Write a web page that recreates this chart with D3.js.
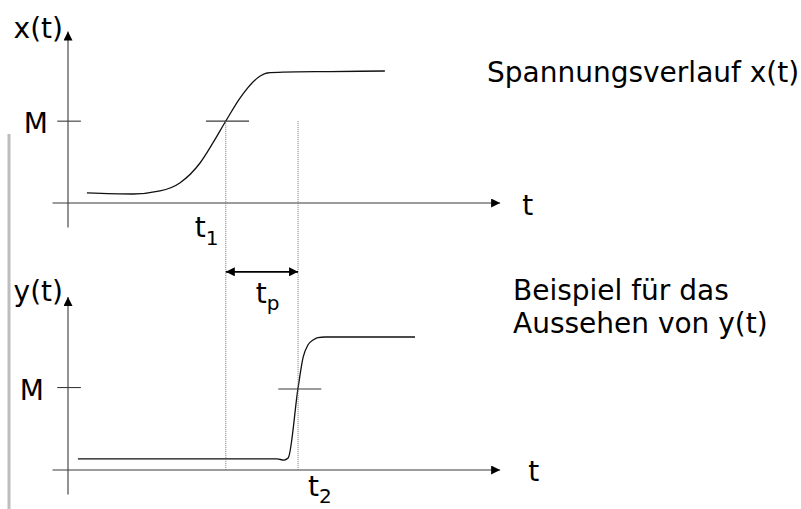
<!DOCTYPE html>
<html>
<head>
<meta charset="utf-8">
<script src="https://cdn.jsdelivr.net/npm/d3@7"></script>
<style>
  html, body { margin: 0; padding: 0; background: #fff; }
  svg { display: block; }
  text { font-family: "DejaVu Sans", sans-serif; fill: #000; }
</style>
</head>
<body>
<script>
// ---------- data ----------
const signalNames = ["x(t)", "y(t)"];
const axisName = "t";
const levelName = "M";
const descriptions = [["Spannungsverlauf x(t)"], ["Beispiel für das", "Aussehen von y(t)"]];

// input signal x(t)
const xSigT = [0.44, 1.51, 2.14, 2.60, 3.07, 3.37, 3.67, 4.00, 4.47, 4.63, 5.00, 6.09, 7.37];
const xSigV = [0.076, 0.068, 0.091, 0.152, 0.303, 0.455, 0.621, 0.795, 0.962, 0.985, 0.992, 0.996, 1.0];

// output signal y(t)
const ySigT = [0.23, 4.86, 5.02, 5.12, 5.35, 5.47, 5.58, 5.70, 5.81, 5.98, 8.07];
const ySigV = [0.083, 0.083, 0.075, 0.09, 0.617, 0.85, 0.94, 0.977, 0.996, 1.0, 1.0];

const levelM = 0.62;
const t1 = 3.67, t2 = 5.35;
const crossTimes = [t1, t2];
const crossSubs = ["1", "2"];
const tpLevel = 1.49;        // height of the t_p arrow (in y(t) units)
const tpSub = "p";

// ---------- layout ----------
const W = 801, H = 509;
const FS = 28, FSsub = 20;
const svg = d3.select("body").append("svg").attr("width", W).attr("height", H);

const tScale = d3.scaleLinear().domain([0, 10]).range([68, 498]);
const yScales = [
  d3.scaleLinear().domain([0, 1]).range([203, 71]),
  d3.scaleLinear().domain([0, 1]).range([470, 337])
];
const axisTMin = -0.36, axisTMax = 10.05;
const axisVMin = -0.185, axisVMax = 1.30;

const defs = svg.append("defs");
function marker(id, color, orient) {
  defs.append("marker").attr("id", id)
    .attr("viewBox", "0 0 10 10").attr("refX", 10).attr("refY", 5)
    .attr("markerWidth", 10).attr("markerHeight", 9).attr("markerUnits", "userSpaceOnUse")
    .attr("orient", orient)
    .append("path").attr("d", "M0,0 L10,5 L0,10 Z").attr("fill", color);
}
marker("arr", "#000", "auto");
marker("arrS", "#000", "auto-start-reverse");

// gray bar at left
svg.append("rect").attr("x", 7.5).attr("y", 134).attr("width", 3).attr("height", H - 134)
  .attr("fill", "#bdbdbd");

const axisColor = "#3a3a3a";
const line = d3.line().curve(d3.curveMonotoneX);

const sigs = [
  {T: xSigT, V: xSigV, cross: t1},
  {T: ySigT, V: ySigV, cross: t2}
];

sigs.forEach((s, i) => {
  const y = yScales[i];
  const g = svg.append("g");
  // x-axis
  g.append("line")
    .attr("x1", tScale(axisTMin)).attr("x2", tScale(axisTMax))
    .attr("y1", y(0)).attr("y2", y(0))
    .attr("stroke", axisColor).attr("stroke-width", 1.1)
    .attr("marker-end", "url(#arr)");
  // y-axis
  g.append("line")
    .attr("x1", tScale(0)).attr("x2", tScale(0))
    .attr("y1", y(axisVMin)).attr("y2", y(axisVMax))
    .attr("stroke", axisColor).attr("stroke-width", 1.1)
    .attr("marker-end", "url(#arr)");
  // M tick on y-axis
  g.append("line")
    .attr("x1", tScale(-0.25)).attr("x2", tScale(0.30))
    .attr("y1", y(levelM)).attr("y2", y(levelM))
    .attr("stroke", axisColor).attr("stroke-width", 1.1);
  // M tick at crossing
  g.append("line")
    .attr("x1", tScale(s.cross - 0.46)).attr("x2", tScale(s.cross + 0.54))
    .attr("y1", y(levelM) + i * 1.5).attr("y2", y(levelM) + i * 1.5)
    .attr("stroke", axisColor).attr("stroke-width", 1.1);
  // signal curve
  g.append("path")
    .attr("d", line(s.T.map((t, k) => [tScale(t), y(s.V[k])])))
    .attr("fill", "none").attr("stroke", "#111").attr("stroke-width", 1.3);
  // signal name
  g.append("text").attr("x", tScale(0) - 5).attr("y", y(axisVMax) + (i === 0 ? 7 : 4))
    .attr("text-anchor", "end").attr("font-size", FS).text(signalNames[i]);
  // M label
  g.append("text").attr("x", tScale(0) - (i === 0 ? 20 : 24)).attr("y", y(levelM) + 12)
    .attr("text-anchor", "end").attr("font-size", FS).text(levelName);
  // t label
  g.append("text").attr("x", tScale(axisTMax) + (i === 0 ? 22 : 28)).attr("y", y(0) + (i === 0 ? 12 : 11))
    .attr("font-size", FS).text(axisName);
});

// dotted vertical guides
crossTimes.forEach(tc => {
  svg.append("line")
    .attr("x1", tScale(tc)).attr("x2", tScale(tc))
    .attr("y1", yScales[0](levelM)).attr("y2", yScales[1](0))
    .attr("stroke", "#777").attr("stroke-width", 1).attr("stroke-dasharray", "1,1");
});

// t1 / t2 labels
function subLabel(x, y, main, sub, subDy) {
  const t = svg.append("text").attr("x", x).attr("y", y).attr("font-size", FS);
  t.append("tspan").text(main);
  t.append("tspan").attr("font-size", FSsub).attr("dy", subDy).text(sub);
}
subLabel(tScale(t1) - 31, yScales[0](0) + 34, "t", crossSubs[0], 8);
subLabel(tScale(t2) + 10, yScales[1](0) + 25.5, "t", crossSubs[1], 7.5);

// t_p double arrow
const yp = yScales[1](tpLevel);
svg.append("line")
  .attr("x1", tScale(t1)).attr("x2", tScale(t2))
  .attr("y1", yp).attr("y2", yp)
  .attr("stroke", "#000").attr("stroke-width", 1.6)
  .attr("marker-start", "url(#arrS)").attr("marker-end", "url(#arr)");
subLabel(tScale(t1) + 30, yp + 31, "t", tpSub, 7);

// descriptions
svg.append("text").attr("x", 487).attr("y", 82).attr("font-size", FS).text(descriptions[0][0]);
descriptions[1].forEach((s, k) => {
  svg.append("text").attr("x", 513).attr("y", 300 + k * 33).attr("font-size", FS).text(s);
});
</script>
</body>
</html>
